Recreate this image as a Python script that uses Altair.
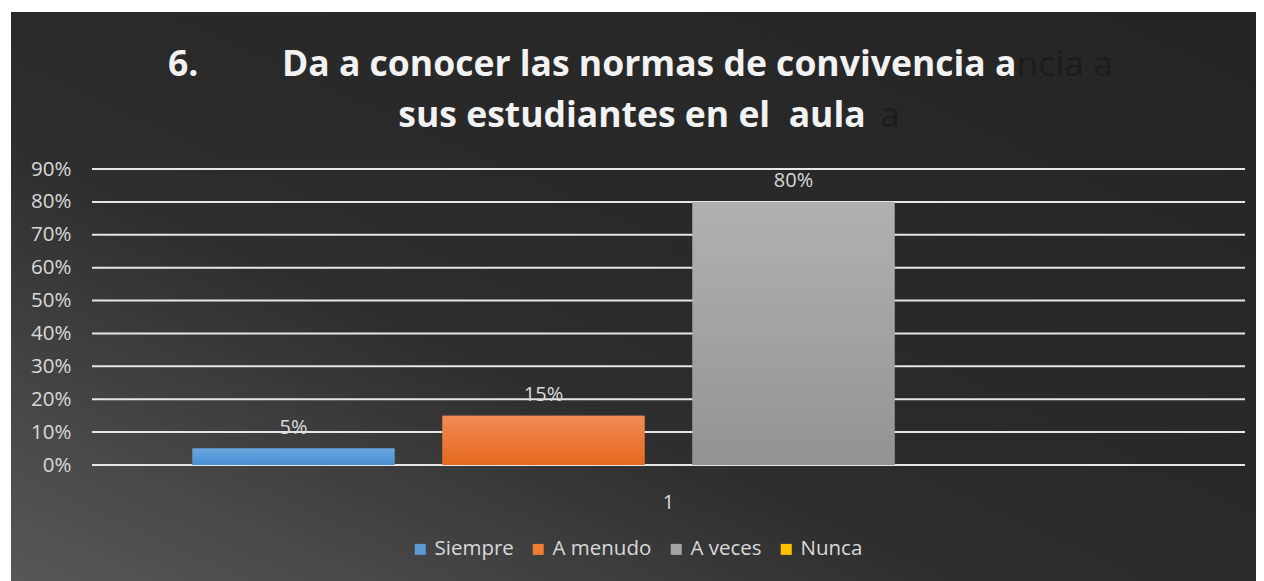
import altair as alt
import pandas as pd

CATEGORY = ["1"]
SERIES = ["Siempre", "A menudo", "A veces", "Nunca"]
VALUES = [0.05, 0.15, 0.80, 0.0]
COLORS = ["#5b9bd5", "#ed7d31", "#a5a5a5", "#ffc000"]
GRAD_TOP = ["#6ba6de", "#f08b56", "#b1b1b1", "#ffc000"]
GRAD_BOTTOM = ["#4a8ed4", "#e6691d", "#939393", "#ffc000"]
Y_TICKS = [0.0, 0.1, 0.2, 0.3, 0.4, 0.5, 0.6, 0.7, 0.8, 0.9]
TITLE_NUMBER = ["6."]
TITLE_LINES = ["Da a conocer las normas de convivencia a", "sus estudiantes en el\u00a0 aula"]
# faint shadow fragments of the title that show beside the white text
TITLE_SHADOWS = ["ncia a", "a"]

FONT = "Open Sans"
LABEL_COLOR = "#d9d9d9"

df = pd.DataFrame({"cat": CATEGORY * len(SERIES), "serie": SERIES, "value": VALUES})
grid_df = pd.DataFrame({"value": Y_TICKS})

x_enc = alt.X(
    "cat:N",
    scale=alt.Scale(paddingInner=0, paddingOuter=0),
    axis=alt.Axis(title=None, labelAngle=0, ticks=False, domain=False, grid=False,
                  labelPadding=27, labelFontSize=20, labelColor=LABEL_COLOR,
                  labelFont=FONT, zindex=1),
)
xoff_enc = alt.XOffset(
    "serie:N", sort=SERIES,
    scale=alt.Scale(domain=SERIES, paddingInner=0.192, paddingOuter=0.402),
)
y_enc = alt.Y(
    "value:Q",
    scale=alt.Scale(domain=[0, 0.9], nice=False, zero=True),
    axis=alt.Axis(title=None, values=Y_TICKS, format=".0%", grid=False, ticks=False,
                  domain=False, labelPadding=21, labelFontSize=20.5,
                  labelColor=LABEL_COLOR, labelFont=FONT, zindex=1),
)

bg_grad = alt.LinearGradient(
    gradient="linear", x1=0, y1=1, x2=1, y2=0,
    stops=[
        alt.GradientStop(color="#575757", offset=0),
        alt.GradientStop(color="#4a4a4a", offset=0.13),
        alt.GradientStop(color="#3d3d3d", offset=0.25),
        alt.GradientStop(color="#2f2f2f", offset=0.37),
        alt.GradientStop(color="#2a2a2a", offset=0.5),
        alt.GradientStop(color="#252525", offset=1),
    ],
)

bg = alt.Chart(pd.DataFrame({"bg": [0]})).mark_rect(fill=bg_grad).encode(
    x=alt.value(-81), x2=alt.value(1164), y=alt.value(-157), y2=alt.value(412)
)

grid = alt.Chart(grid_df).mark_rule(color="#e6e6e6", strokeWidth=2).encode(y=y_enc)

bars = alt.Chart(df).mark_bar().encode(
    x=x_enc, xOffset=xoff_enc, y=y_enc,
    color=alt.Color(
        "serie:N", sort=SERIES,
        scale=alt.Scale(domain=SERIES, range=COLORS),
        legend=alt.Legend(orient="none", legendX=318, legendY=370, direction="horizontal",
                          columns=4, title=None, labelFontSize=20.5, labelColor=LABEL_COLOR,
                          labelFont=FONT, symbolType="square", symbolSize=121,
                          symbolStrokeWidth=0, labelOffset=4, columnPadding=14, padding=0),
    ),
)

overlays = []
for s, top, bot in zip(SERIES, GRAD_TOP, GRAD_BOTTOM):
    g = alt.LinearGradient(
        gradient="linear", x1=0, y1=0, x2=0, y2=1,
        stops=[alt.GradientStop(color=top, offset=0), alt.GradientStop(color=bot, offset=1)],
    )
    overlays.append(
        alt.Chart(df).transform_filter(alt.datum.serie == s)
        .mark_bar(fill=g).encode(x=x_enc, xOffset=xoff_enc, y=y_enc)
    )

labels = alt.Chart(df).transform_filter(alt.datum.value > 0).mark_text(
    baseline="alphabetic", dy=-15, fontSize=20, color=LABEL_COLOR, font=FONT
).encode(x=x_enc, xOffset=xoff_enc, y=y_enc, text=alt.Text("value:Q", format=".0%"))


def text_layer(txt, xpos, ypos, align, color, weight):
    return alt.Chart(pd.DataFrame({"t": [txt]})).mark_text(
        align=align, baseline="alphabetic", fontSize=35.5, font=FONT,
        fontWeight=weight, color=color,
    ).encode(text="t:N", x=alt.value(xpos), y=alt.value(ypos))


ghost1 = text_layer(TITLE_SHADOWS[0], 1021, -93, "right", "#1c1c1c", "normal")
ghost2 = text_layer(TITLE_SHADOWS[1], 808, -42, "right", "#1c1c1c", "normal")
num = text_layer(TITLE_NUMBER[0], 76, -93, "left", "#f2f2f2", "bold")
t1 = text_layer(TITLE_LINES[0], 190, -93, "left", "#f2f2f2", "bold")
t2 = text_layer(TITLE_LINES[1], 540, -42, "center", "#f2f2f2", "bold")

chart = alt.layer(bg, grid, bars, *overlays, labels, ghost1, ghost2, num, t1, t2).properties(
    width=1153, height=296,
    autosize=alt.AutoSizeParams(type="none"),
    padding={"left": 84, "top": 161, "right": 11, "bottom": 116},
    background="white",
).configure_view(stroke=None)

chart.save("out.html", embed_options={"renderer": "svg", "actions": False})
